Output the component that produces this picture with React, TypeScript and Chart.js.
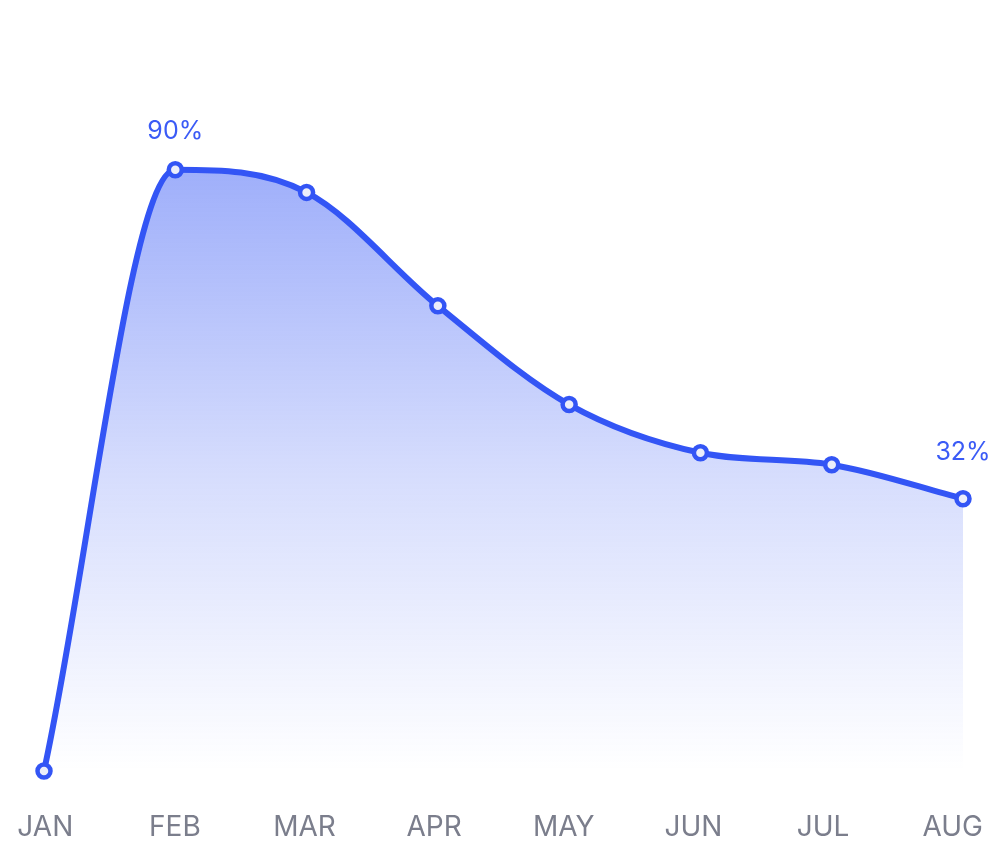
import React, { useEffect, useRef } from "react";
import { Chart, registerables } from "chart.js";

Chart.register(...registerables);

const months = ["JAN", "FEB", "MAR", "APR", "MAY", "JUN", "JUL", "AUG"];
const values = [-16, 90, 86, 66, 48.6, 40.1, 38, 32];
const labeledIndexes = [1, 7];

const LINE = "rgb(51, 85, 245)";
const FONT = "Inter, 'Noto Sans', sans-serif";

const valueLabelPlugin = {
  id: "valueLabels",
  afterDatasetsDraw(chart: any, _args: any, opts: any) {
    const meta = chart.getDatasetMeta(0);
    const ctx = chart.ctx;
    ctx.save();
    ctx.font = `400 ${opts.size}px ${FONT}`;
    ctx.fillStyle = opts.color;
    ctx.textAlign = "center";
    ctx.textBaseline = "middle";
    labeledIndexes.forEach((i, k) => {
      const el = meta.data[i];
      if (!el) return;
      ctx.fillText(`${values[i]}%`, el.x, el.y - opts.offsets[k]);
    });
    ctx.restore();
  },
};

export default function App() {
  const ref = useRef<HTMLCanvasElement | null>(null);
  useEffect(() => {
    if (!ref.current) return;
    const chart = new Chart(ref.current, {
      type: "line",
      data: {
        labels: months,
        datasets: [
          {
            data: values,
            xAxisID: "x",
            borderColor: LINE,
            borderWidth: 6,
            tension: 0.4,
            cubicInterpolationMode: "monotone",
            pointRadius: 6.5,
            pointBorderWidth: 4.5,
            pointBackgroundColor: "#eceefa",
            pointBorderColor: LINE,
            clip: false as any,
            fill: "start",
            backgroundColor: (c: any) => {
              const area = c.chart.chartArea;
              if (!area) return "rgba(51,85,245,0.3)";
              const g = c.chart.ctx.createLinearGradient(0, area.top, 0, area.bottom);
              g.addColorStop(0, "rgba(51,85,245,0.52)");
              g.addColorStop(0.55, "rgba(51,85,245,0.2)");
              g.addColorStop(1, "rgba(51,85,245,0)");
              return g;
            },
          },
        ],
      },
      options: {
        animation: false,
        responsive: true,
        maintainAspectRatio: false,
        layout: { padding: { left: 44, right: 43, top: 113, bottom: 20 } },
        plugins: {
          legend: { display: false },
          tooltip: { enabled: false },
          valueLabels: { size: 25, color: "#3b5bf6", offsets: [38, 46] },
        } as any,
        scales: {
          x: {
            type: "category",
            display: false,
          },
          xl: {
            type: "linear",
            position: "bottom",
            min: -0.01,
            max: 7.08,
            grid: { display: false, drawTicks: false },
            border: { display: false },
            afterBuildTicks: (s: any) => {
              s.ticks = months.map((_, i) => ({ value: i }));
            },
            afterFit: (s: any) => {
              s.height = 72;
              s.paddingLeft = 0;
              s.paddingRight = 0;
            },
            ticks: {
              color: "#7b7e8c",
              font: { family: FONT, size: 28 },
              padding: 40,
              maxRotation: 0,
              autoSkip: false,
              callback: (v: any) => months[Math.round(v)] ?? "",
            },
          } as any,
          y: {
            display: false,
            min: -16,
            max: 100,
          },
        },
      },
      plugins: [valueLabelPlugin],
    });
    return () => chart.destroy();
  }, []);
  return (
    <div style={{ position: "fixed", left: 0, top: 0, width: 1006, height: 863, background: "#fff" }}>
      <canvas ref={ref} />
    </div>
  );
}
